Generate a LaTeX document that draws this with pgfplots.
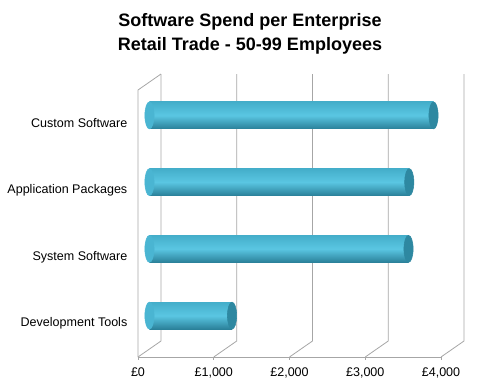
\documentclass[border=0pt]{standalone}
\usepackage{fontspec}
\setmainfont{Liberation Sans}
\usepackage{pgfplots}
\pgfplotsset{compat=1.18}
\definecolor{barTop}{HTML}{44AECA}
\definecolor{barMid}{HTML}{5AC6E2}
\definecolor{barBot}{HTML}{2A8099}
\definecolor{leftc}{HTML}{4AB5D2}
\definecolor{capc}{HTML}{2E88A1}
\definecolor{gridc}{HTML}{A6A6A6}
\begin{document}
\begin{tikzpicture}
\useasboundingbox (0,0) rectangle (375pt,-291.75pt);
\node[font=\bfseries\fontsize{13.5}{18}\selectfont, align=center] at (187.5pt,-25.5pt) {Software Spend per Enterprise\\Retail Trade - 50-99 Employees};
\begin{axis}[
  at={(103.5pt,-267.75pt)}, anchor=south west,
  scale only axis, width=227.25pt, height=200.25pt,
  xmin=0, xmax=4000, ymin=0, ymax=4,
  clip=false,
  axis line style={draw=none},
  tick style={draw=none},
  xtick={0,1000,2000,3000,4000},
  xticklabels={£0,{£1,000},{£2,000},{£3,000},{£4,000}},
  ytick={0.5,1.5,2.5,3.5},
  yticklabels={Development Tools,System Software,Application Packages,Custom Software},
  tick label style={font=\fontsize{9.4}{11}\selectfont},
  xticklabel style={yshift=-4.5pt},
  yticklabel style={xshift=-4.5pt},
  /pgf/number format/assume math mode=true,
  barsty/.style={xbar, bar width=20.25pt, bar shift=0pt, draw=none, top color=barTop, bottom color=barBot, middle color=barMid, xshift=8.6pt, yshift=6pt},
  leftsty/.style={only marks, mark=*, mark size=10.125pt, color=leftc, mark options={solid, fill=leftc, draw=none, xscale=0.34}, xshift=8.6pt, yshift=6pt},
  capsty/.style={only marks, mark=*, mark size=10.125pt, color=capc, mark options={solid, fill=capc, draw=none, xscale=0.34}, xshift=8.6pt, yshift=6pt},
]
\pgfplotsinvokeforeach{0,1000,2000,3000,4000}{
  \draw[gridc, line width=0.6pt] (axis cs:#1,0) -- ([shift={(17.25pt,12pt)}]axis cs:#1,0) -- ([shift={(17.25pt,12pt)}]axis cs:#1,4);
  \draw[gridc, line width=0.6pt] (axis cs:#1,0) -- ++(0,-2pt);
}
\draw[gridc, line width=0.6pt] (axis cs:0,0) -- (axis cs:0,4) -- ([shift={(17.25pt,12pt)}]axis cs:0,4);
\draw[gridc, line width=0.6pt] (axis cs:0,0) -- (axis cs:4000,0);
% left rounded ends
\addplot[leftsty] coordinates {(0,0.5) (0,1.5) (0,2.5) (0,3.5)};
% bars
\addplot[barsty] coordinates {(1090,0.5)};
\addplot[barsty] coordinates {(3420,1.5)};
\addplot[barsty] coordinates {(3430,2.5)};
\addplot[barsty] coordinates {(3750,3.5)};
% right caps
\addplot[capsty] coordinates {(1090,0.5) (3420,1.5) (3430,2.5) (3750,3.5)};
\end{axis}
\end{tikzpicture}
\end{document}
